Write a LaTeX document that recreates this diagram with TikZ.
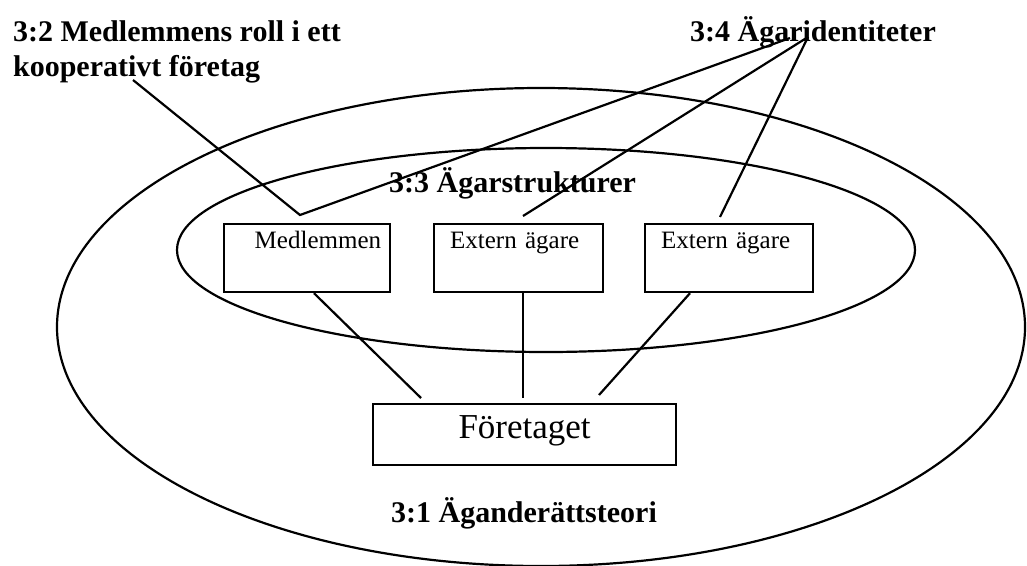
\documentclass[tikz,border=0pt]{standalone}
\usepackage{fontspec}
\setmainfont{Liberation Serif}
\begin{document}
\begin{tikzpicture}[x=1pt,y=-1pt, line width=2.2pt,
  heading/.style={inner sep=0pt, anchor=base west, font=\fontsize{30}{35}\selectfont\bfseries, align=left},
  ownerbox/.style={draw, line width=2.2pt, anchor=north west, inner ysep=0pt, text height=24pt, text depth=44pt,
    font=\fontsize{25}{30}\selectfont},
  firmbox/.style={draw, line width=2.2pt, anchor=north west, inner ysep=0pt, inner xsep=0pt, text height=34pt, text depth=27pt,
    minimum width=303pt, font=\fontsize{35}{40}\selectfont}
]
\useasboundingbox (0,0) rectangle (1027,565);
\clip (0,0) rectangle (1027,565);

% ellipses
\draw (541,327) ellipse [x radius=484pt, y radius=239pt];
\draw (546,250) ellipse [x radius=369pt, y radius=102pt];

% headings
\node[heading] (h32) at (12,76) {3:2 Medlemmens roll i ett\\kooperativt företag};
\node[heading] (h34) at (689,41) {3:4 Ägaridentiteter};
\node[heading] (h33) at (388,192) {3:3 Ägarstrukturer};
\node[heading] (h31) at (390,522) {3:1 Äganderättsteori};

% boxes
\node[ownerbox, inner xsep=9pt, text width=148pt, align=right] (m) at (223,223) {Medlemmen};
\node[ownerbox, inner xsep=16pt, text width=137pt, align=left] (e1) at (433,223) {Extern ägare};
\node[ownerbox, inner xsep=16pt, text width=136pt, align=left] (e2) at (644,223) {Extern ägare};
\node[firmbox, align=center] (f) at (372,403) {Företaget};

% connector end points
\coordinate (p32) at (133,80);
\coordinate (p34a) at (790,38);
\coordinate (p34b) at (808,37);
\coordinate (mt) at ([shift={(77,-8)}]m.north west);
\coordinate (e1t) at ([shift={(90,-7)}]e1.north west);
\coordinate (e2t) at ([shift={(76,-6)}]e2.north west);

% label connectors
\draw (p32) -- (mt) -- (p34a);
\draw (e1t) -- (p34b);
\draw (e2t) -- (p34b);

% box to firm connectors
\draw ([xshift=91pt]m.south west) -- ([shift={(49,-5)}]f.north west);
\draw ([xshift=90pt]e1.south west) -- ([shift={(151,-5)}]f.north west);
\draw ([xshift=46pt]e2.south west) -- ([shift={(227,-8)}]f.north west);
\end{tikzpicture}
\end{document}
